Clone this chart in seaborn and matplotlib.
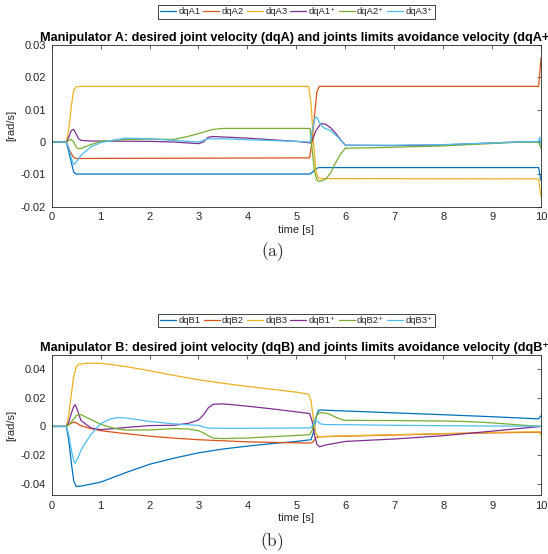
import numpy as np
import pandas as pd
import matplotlib
matplotlib.use("Agg")
import matplotlib.pyplot as plt
import seaborn as sns

# ---- manipulator A ----
tA1 = [0, 0.3, 0.38, 0.45, 0.5, 5.28, 5.35, 5.45, 9.95, 10]
dqA1 = [0, 0, -0.005, -0.0093, -0.0099, -0.0099, -0.009, -0.0079, -0.0079, -0.012]
tA2 = [0, 0.3, 0.38, 0.45, 0.5, 5.27, 5.32, 5.37, 5.42, 5.47, 9.95, 10]
dqA2 = [0, 0, -0.003, -0.0048, -0.0051, -0.0049, 0.0, 0.008, 0.0155, 0.0172, 0.0172, 0.026]
tA3 = [0, 0.3, 0.35, 0.4, 0.45, 0.5, 0.55, 5.25, 5.3, 5.35, 5.4, 5.45, 9.95, 10]
dqA3 = [0, 0, 0.004, 0.011, 0.016, 0.017, 0.0172, 0.0172, 0.012, 0.0, -0.009, -0.0113, -0.0114, -0.017]
tA1p = [0, 0.3, 0.35, 0.4, 0.45, 0.5, 0.55, 0.6, 0.8, 1.0, 2.0, 2.5, 3.0, 3.1, 3.2, 3.3, 4, 5.0, 5.3,
        5.4, 5.5, 5.6, 5.7, 5.8, 5.9, 6.0, 7, 8, 9, 9.5, 10]
dqA1p = [0, 0, 0.0015, 0.0035, 0.0039, 0.0025, 0.001, 0.0005, 0.0003, 0.0003, 0.0002, 0.0, -0.0005,
         0.0, 0.0015, 0.0017, 0.0012, 0.0002, -0.0003, 0.0035, 0.0057, 0.0055, 0.0044, 0.0028, 0.0008,
         -0.001, -0.0011, -0.0009, -0.0003, 0.0, 0.0001]
tA2p = [0, 0.3, 0.35, 0.4, 0.45, 0.5, 0.55, 0.6, 0.7, 0.8, 1.0, 1.5, 2.0, 2.5, 2.8, 3.0, 3.2, 3.3, 3.5,
        5.28, 5.32, 5.37, 5.42, 5.47, 5.6, 5.7, 5.8, 5.9, 6.0, 6.5, 8, 9.5, 9.95, 10]
dqA2p = [0, 0, 0.0005, 0.0008, 0.0, -0.0015, -0.0021, -0.002, -0.0014, -0.0008, 0.0002, 0.0008,
         0.0009, 0.0008, 0.0018, 0.0026, 0.0035, 0.0039, 0.0042, 0.0042, -0.002, -0.009, -0.0118,
         -0.0122, -0.0115, -0.0095, -0.0065, -0.0038, -0.0019, -0.0018, -0.0012, -0.0001, 0.0, -0.002]
tA3p = [0, 0.3, 0.35, 0.4, 0.45, 0.5, 0.6, 0.8, 1.0, 1.5, 2.0, 2.5, 3.0, 3.2, 3.5, 4.0, 5.0, 5.28,
        5.33, 5.38, 5.42, 5.47, 5.55, 5.7, 5.85, 6.0, 7, 8, 9, 9.5, 9.95, 9.97, 10]
dqA3p = [0, 0, -0.002, -0.005, -0.007, -0.0062, -0.0041, -0.0015, -0.0002, 0.0012, 0.001, 0.0005,
         0.0, 0.001, 0.001, 0.0007, 0.0002, 0.0, 0.004, 0.0075, 0.0077, 0.006, 0.0045, 0.0035,
         0.0015, -0.001, -0.001, -0.0008, -0.0003, 0.0, 0.0002, 0.0015, -0.001]

# ---- manipulator B ----
tB1 = [0, 0.3, 0.35, 0.4, 0.45, 0.5, 0.6, 1.0, 1.5, 2.0, 2.5, 3.0, 3.5, 4.0, 4.5, 5.0, 5.3, 5.35,
       5.4, 5.45, 5.5, 6, 7, 8, 9, 9.95, 10]
dqB1 = [0, 0, -0.01, -0.025, -0.038, -0.042, -0.0418, -0.039, -0.0325, -0.0265, -0.0222, -0.0185,
        -0.0158, -0.0138, -0.012, -0.0105, -0.0093, -0.004, 0.006, 0.0112, 0.0115, 0.0108, 0.0095,
        0.0082, 0.0068, 0.0053, 0.0075]
tB2 = [0, 0.3, 0.38, 0.45, 0.5, 0.6, 0.8, 1.0, 1.5, 2.0, 2.5, 3.0, 4.0, 5.0, 5.3, 5.35, 5.4, 5.45,
       6, 7, 8, 9, 10]
dqB2 = [0, 0, 0.002, 0.003, 0.0025, 0.0005, -0.0015, -0.003, -0.005, -0.0068, -0.0082, -0.0093,
        -0.0108, -0.0115, -0.0116, -0.0105, -0.008, -0.0072, -0.0068, -0.006, -0.0052, -0.0045, -0.004]
tB3 = [0, 0.3, 0.35, 0.4, 0.45, 0.5, 0.55, 0.7, 1.0, 1.5, 2.0, 2.5, 3.0, 3.5, 4.0, 4.5, 5.0, 5.25,
       5.3, 5.35, 5.4, 5.45, 6, 7, 8, 9, 9.95, 10]
dqB3 = [0, 0, 0.008, 0.022, 0.035, 0.0415, 0.0435, 0.0442, 0.0442, 0.042, 0.039, 0.0357, 0.0327,
        0.0302, 0.028, 0.026, 0.024, 0.0226, 0.018, 0.005, -0.005, -0.0072, -0.0066, -0.0058,
        -0.005, -0.0042, -0.0037, -0.006]
tB1p = [0, 0.3, 0.35, 0.4, 0.45, 0.48, 0.52, 0.6, 0.8, 1.0, 1.5, 2.0, 2.5, 2.8, 3.0, 3.1, 3.2, 3.3,
        3.5, 4.0, 4.5, 5.0, 5.27, 5.32, 5.37, 5.42, 5.47, 5.6, 6.0, 7, 8, 9, 10]
dqB1p = [0, 0, 0.003, 0.009, 0.014, 0.0152, 0.012, 0.004, -0.001, -0.0023, -0.0008, 0.0006, 0.0008,
         0.0022, 0.0045, 0.008, 0.013, 0.0155, 0.0158, 0.0142, 0.0123, 0.0102, 0.009, 0.004, -0.006,
         -0.0125, -0.0143, -0.013, -0.0105, -0.0088, -0.0065, -0.0033, 0.0]
tB2p = [0, 0.3, 0.4, 0.5, 0.55, 0.6, 0.7, 0.85, 1.0, 1.3, 1.5, 2.0, 2.5, 2.8, 3.0, 3.1, 3.2, 3.3,
        3.5, 4.0, 5.0, 5.27, 5.32, 5.37, 5.42, 5.48, 5.65, 5.8, 5.97, 6.5, 7, 8, 8.5, 9, 9.5, 10]
dqB2p = [0, 0, 0.003, 0.0075, 0.0085, 0.0082, 0.0065, 0.004, 0.0015, -0.0015, -0.0025, -0.0025,
         -0.0015, -0.0018, -0.003, -0.0045, -0.0065, -0.0082, -0.0085, -0.0081, -0.0063, -0.0058,
         -0.003, 0.003, 0.008, 0.0098, 0.009, 0.0065, 0.0043, 0.0042, 0.0041, 0.0038, 0.0034,
         0.0025, 0.0012, 0.0]
tB3p = [0, 0.3, 0.35, 0.4, 0.45, 0.48, 0.55, 0.6, 0.7, 0.8, 1.0, 1.2, 1.35, 1.5, 2.0, 2.5, 3.0, 3.1,
        3.2, 3.5, 4.0, 5.0, 5.3, 5.35, 5.4, 5.45, 5.5, 5.6, 6.0, 7, 8, 9, 10]
dqB3p = [0, 0, -0.006, -0.016, -0.024, -0.0258, -0.021, -0.0165, -0.011, -0.0058, 0.002, 0.0052,
         0.0062, 0.006, 0.0035, 0.0018, 0.0007, -0.0003, -0.0012, -0.0013, -0.0013, -0.0011, -0.001,
         0.002, 0.0045, 0.003, 0.0017, 0.0013, 0.0012, 0.0008, 0.0005, 0.0003, 0.0002]

namesA = ["dqA1", "dqA2", "dqA3", "dqA1\u207a", "dqA2\u207a", "dqA3\u207a"]
namesB = ["dqB1", "dqB2", "dqB3", "dqB1\u207a", "dqB2\u207a", "dqB3\u207a"]
colors = ["#0072BD", "#D95319", "#EDB120", "#7E2F8E", "#77AC30", "#4DBEEE"]

xticks = [0, 1, 2, 3, 4, 5, 6, 7, 8, 9, 10]
yticksA = [-0.02, -0.01, 0, 0.01, 0.02, 0.03]
ylabelsA = ["-0.02", "-0.01", "0", "0.01", "0.02", "0.03"]
yticksB = [-0.04, -0.02, 0, 0.02, 0.04]
ylabelsB = ["-0.04", "-0.02", "0", "0.02", "0.04"]

titleA = "Manipulator A: desired joint velocity (dqA) and joints limits avoidance velocity (dqA+)"
titleB = "Manipulator B: desired joint velocity (dqB) and joints limits avoidance velocity (dqB\u207a)"


def long_df(ts, vs, names):
    parts = [pd.DataFrame({"t": t, "v": v, "name": n}) for t, v, n in zip(ts, vs, names)]
    return pd.concat(parts, ignore_index=True)


dfA = long_df([tA1, tA2, tA3, tA1p, tA2p, tA3p], [dqA1, dqA2, dqA3, dqA1p, dqA2p, dqA3p], namesA)
dfB = long_df([tB1, tB2, tB3, tB1p, tB2p, tB3p], [dqB1, dqB2, dqB3, dqB1p, dqB2p, dqB3p], namesB)

sns.set_style("white")
plt.rcParams["font.family"] = ["Liberation Sans", "DejaVu Sans"]
plt.rcParams["mathtext.fontset"] = "cm"
plt.rcParams["axes.unicode_minus"] = False

dark = "#262626"
fig = plt.figure(figsize=(5.48, 5.54), dpi=100)
axA = fig.add_axes([0.0943, 0.6269, 0.8930, 0.2919])
axB = fig.add_axes([0.0943, 0.1065, 0.8930, 0.2527])


def style(ax, df, names, yticks, ylabels, ylim, title, legy, tag, tagy):
    sns.lineplot(data=df, x="t", y="v", hue="name", hue_order=names, palette=colors,
                 estimator=None, sort=False, linewidth=0.9, ax=ax)
    ax.set_xlim(0, 10)
    ax.set_ylim(*ylim)
    ax.set_xticks(xticks)
    ax.set_xticklabels([str(x) for x in xticks])
    ax.set_yticks(yticks)
    ax.set_yticklabels(ylabels)
    ax.tick_params(direction="in", length=3, width=0.5, colors=dark, labelsize=8,
                   top=True, right=True, pad=4)
    for s in ax.spines.values():
        s.set_color(dark)
        s.set_linewidth(0.6)
    ax.set_xlabel("time [s]", fontsize=8, color=dark, labelpad=2)
    ax.set_ylabel("[rad/s]", fontsize=8, color=dark, labelpad=3)
    ax.set_title(title, fontsize=9.1, fontweight="bold", color="black", pad=3)
    h, l = ax.get_legend_handles_labels()
    leg = ax.legend(h, l, loc="center", bbox_to_anchor=(0.5, legy), ncol=6, fontsize=6.8,
                    frameon=True, fancybox=False, edgecolor=dark, framealpha=1,
                    handlelength=1.7, handletextpad=0.25, columnspacing=0.3,
                    borderpad=0.25, borderaxespad=0)
    leg.get_frame().set_linewidth(0.6)
    fig.text(272 / 548, tagy, tag, ha="center", va="center", fontsize=12.5)


style(axA, dfA, namesA, yticksA, ylabelsA, (-0.02, 0.03), titleA, 1.204,
      r"$\mathrm{(a)}$", 1 - 252 / 554)
style(axB, dfB, namesB, yticksB, ylabelsB, (-0.048, 0.050), titleB, 1.246,
      r"$\mathrm{(b)}$", 1 - 542 / 554)

fig.savefig("out.png", dpi=100)
